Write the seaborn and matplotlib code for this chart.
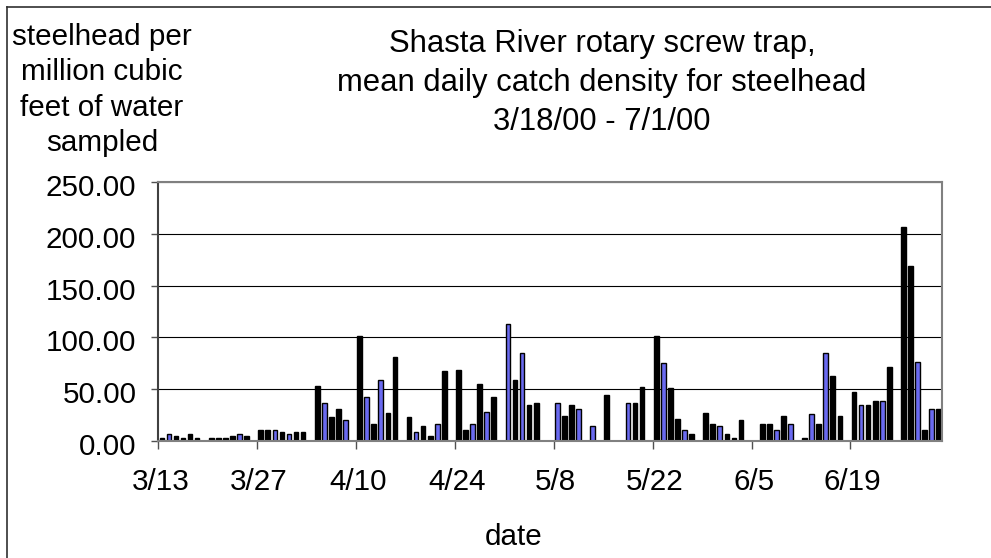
import matplotlib
matplotlib.use("Agg")
import matplotlib.pyplot as plt
import matplotlib.transforms as mtransforms
from matplotlib.lines import Line2D
from matplotlib.ticker import FormatStrFormatter
import seaborn as sns
import pandas as pd

# ---------------- data ----------------
bar_dates = ["3/13", "3/14", "3/15", "3/16", "3/17", "3/18", "3/20", "3/21", "3/22", "3/23",
             "3/24", "3/25", "3/27", "3/28", "3/29", "3/30", "3/31", "4/1", "4/2", "4/4",
             "4/5", "4/6", "4/7", "4/8", "4/10", "4/11", "4/12", "4/13", "4/14", "4/15",
             "4/17", "4/18", "4/19", "4/20", "4/21", "4/22", "4/24", "4/25", "4/26", "4/27",
             "4/28", "4/29", "5/1", "5/2", "5/3", "5/4", "5/5", "5/8", "5/9", "5/10",
             "5/11", "5/13", "5/15", "5/18", "5/19", "5/20", "5/22", "5/23", "5/24", "5/25",
             "5/26", "5/27", "5/29", "5/30", "5/31", "6/1", "6/2", "6/3", "6/6", "6/7",
             "6/8", "6/9", "6/10", "6/12", "6/13", "6/14", "6/15", "6/16", "6/17", "6/19",
             "6/20", "6/21", "6/22", "6/23", "6/24", "6/26", "6/27", "6/28", "6/29", "6/30",
             "7/1"]
density = [2.5, 6.5, 4.2, 2.5, 6.5, 2.5, 2.3, 2.3, 2.3, 4.3,
           6.5, 4.3, 10.6, 10.6, 10.6, 8.6, 6.5, 8.6, 8.6, 52.7,
           36.6, 22.6, 30.8, 20.4, 101.0, 42.4, 16.2, 58.5, 26.5, 80.9,
           22.6, 8.4, 14.6, 4.9, 16.2, 67.0, 68.6, 10.7, 16.2, 54.4,
           28.2, 42.4, 112.6, 58.5, 84.8, 34.6, 36.6, 36.6, 24.3, 34.6,
           30.4, 13.9, 44.3, 36.6, 36.6, 52.4, 101.0, 74.8, 50.8, 21.0,
           10.5, 6.5, 26.4, 16.2, 14.4, 6.5, 2.7, 20.4, 16.2, 16.2,
           10.5, 24.3, 16.2, 2.6, 26.2, 16.2, 84.8, 62.4, 24.3, 46.9,
           34.6, 34.6, 38.8, 38.8, 70.9, 207.0, 169.0, 76.4, 10.7, 30.8,
           30.8]
shade = ["k", "b", "k", "k", "k", "k", "k", "k", "k", "k",
         "b", "k", "k", "k", "b", "k", "b", "k", "k", "k",
         "b", "k", "k", "b", "k", "b", "k", "b", "k", "k",
         "k", "b", "k", "k", "b", "k", "k", "k", "b", "k",
         "b", "k", "b", "k", "b", "k", "k", "b", "k", "k",
         "b", "b", "k", "b", "k", "k", "k", "b", "k", "k",
         "b", "k", "k", "k", "b", "k", "k", "k", "k", "k",
         "b", "k", "b", "k", "b", "k", "b", "k", "k", "k",
         "b", "k", "k", "b", "k", "k", "k", "b", "k", "b",
         "k"]
y_ticks = [0, 50, 100, 150, 200, 250]
title_text = "Shasta River rotary screw trap,\nmean daily catch density for steelhead\n3/18/00 - 7/1/00"
ylabel_text = "steelhead per\nmillion cubic\nfeet of water\nsampled"
xlabel_text = "date"

# all daily categories on the axis (3/13 .. 7/1)
all_days = [f"{d.month}/{d.day}" for d in pd.date_range("2000-03-13", "2000-07-01")]
df = pd.DataFrame({"date": bar_dates, "density": density, "shade": shade})

# ---------------- style ----------------
plt.rcParams["font.family"] = ["Liberation Sans", "DejaVu Sans"]
W, H = 991, 558
fig = plt.figure(figsize=(W / 100, H / 100), dpi=100)
fig.patch.set_facecolor("white")

left, right, top, bottom = 158.3, 942.3, 182.3, 440.7
ax = fig.add_axes([left / W, 1 - bottom / H, (right - left) / W, (bottom - top) / H])

sns.barplot(data=df, x="date", y="density", hue="shade", order=all_days,
            hue_order=["b", "k"], palette={"b": "#6A6AF0", "k": "#000000"},
            dodge=False, width=0.66, saturation=1, edgecolor="black",
            linewidth=1.0, legend=False, ax=ax)

ax.set_xlim(-0.5, len(all_days) - 0.5)
ax.set_ylim(0, 250)
ax.set_xlabel("")
ax.set_ylabel("")

FS = 21.3
step = 14
xpos = [i - 0.5 for i in range(0, len(all_days), step)]
ax.set_xticks(xpos, [all_days[i] for i in range(0, len(all_days), step)])
ax.set_yticks(y_ticks)
ax.yaxis.set_major_formatter(FormatStrFormatter("%.2f"))
ax.tick_params(axis="x", length=5.8, width=1.0, color="#505050", pad=14,
               labelsize=FS, labelcolor="black", direction="out")
ax.tick_params(axis="y", length=5.0, width=1.0, color="#505050", pad=10.8,
               labelsize=FS, labelcolor="black", direction="out")
for lab in ax.get_yticklabels():
    lab.set_transform(lab.get_transform() + mtransforms.ScaledTranslation(0, -3 / 100, fig.dpi_scale_trans))
for lab in ax.get_xticklabels():
    lab.set_transform(lab.get_transform() + mtransforms.ScaledTranslation(2 / 100, 0, fig.dpi_scale_trans))

ax.yaxis.grid(True, color="black", linewidth=0.8)
ax.xaxis.grid(False)
ax.set_axisbelow(True)
for side in ["top", "right", "bottom"]:
    ax.spines[side].set_color("#808080")
    ax.spines[side].set_linewidth(1.5)
ax.spines["left"].set_color("#404040")
ax.spines["left"].set_linewidth(1.5)
ax.set_facecolor("white")

# texts
fig.text(602 / W, 1 - 83 / H, title_text, ha="center", va="center",
         fontsize=22.3, linespacing=1.38, multialignment="center")
fig.text(102 / W, 1 - 90 / H, ylabel_text, ha="center", va="center",
         fontsize=FS, linespacing=1.32, multialignment="center")
fig.text(514 / W, 1 - 537 / H, xlabel_text, ha="center", va="center", fontsize=FS)

# outer chart-area border (left and top visible)
fig.add_artist(Line2D([7 / W, 7 / W], [0, 1 - 7 / H], transform=fig.transFigure,
                      color="#303030", linewidth=1.2))
fig.add_artist(Line2D([7 / W, 1], [1 - 7 / H, 1 - 7 / H], transform=fig.transFigure,
                      color="#303030", linewidth=1.2))

fig.savefig("out.png", dpi=100, facecolor="white")
